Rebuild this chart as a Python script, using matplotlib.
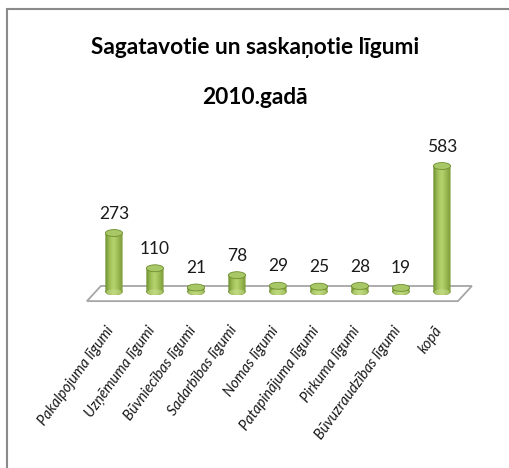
import numpy as np
import matplotlib
matplotlib.use("Agg")
import matplotlib.pyplot as plt
from matplotlib.patches import Ellipse, Polygon, PathPatch, Rectangle
from matplotlib.path import Path
from matplotlib.colors import LinearSegmentedColormap

# data
categories = ["Pakalpojuma līgumi", "Uzņēmuma līgumi", "Būvniecības līgumi",
              "Sadarbības līgumi", "Nomas līgumi", "Patapinājuma līgumi",
              "Pirkuma līgumi", "Būvuzraudzības līgumi", "kopā"]
values = [273, 110, 21, 78, 29, 25, 28, 19, 583]

title_lines = ["Sagatavotie un saskaņotie līgumi", "2010.gadā"]

# cylinder look
bar_w = 0.42
cap_h = 32
cyl_cmap = LinearSegmentedColormap.from_list(
    "cyl", ["#6a8a2c", "#8fb04a", "#a9c862", "#b6d370", "#a3c25c", "#8eae48", "#7b9a3a"])


def draw_cylinder(ax, x, v):
    left, right = x - bar_w / 2, x + bar_w / 2
    body = Path.make_compound_path(
        Path([(left, 0), (right, 0), (right, v), (left, v), (left, 0)],
             [Path.MOVETO, Path.LINETO, Path.LINETO, Path.LINETO, Path.CLOSEPOLY]),
        Path.unit_circle().transformed(
            matplotlib.transforms.Affine2D().scale(bar_w / 2, cap_h / 2).translate(x, 0)))
    clip = PathPatch(body, facecolor="none", edgecolor="none", transform=ax.transData)
    ax.add_patch(clip)
    grad = np.linspace(0, 1, 64).reshape(1, -1)
    im = ax.imshow(grad, cmap=cyl_cmap, aspect="auto", interpolation="bicubic",
                   extent=[left, right, -cap_h / 2, v + cap_h / 2], zorder=3)
    im.set_clip_path(clip)
    # light reflection at the base
    ax.add_patch(Ellipse((x, 0), bar_w * 0.9, cap_h * 0.8, facecolor="#c9e08e",
                         edgecolor="none", alpha=0.5, zorder=3.5))
    ax.add_patch(Ellipse((x, v), bar_w, cap_h, facecolor="#a8c766",
                         edgecolor="#6f8f30", lw=0.6, zorder=4))


fig = plt.figure(figsize=(5.10, 4.68), dpi=100)
ax = fig.add_axes([0, 0, 1, 1])
ax.set_xlim(-2.78, 9.66)
ax.set_ylim(-814, 1351)
ax.axis("off")

n = len(values)
xs = np.arange(n)

# floor
floor = Polygon([(-0.66, -42), (n - 1 + 0.39, -42), (n - 1 + 0.73, 28), (-0.32, 28)],
                closed=True, facecolor="white", edgecolor="#a6a6a6", lw=1.3, zorder=1)
ax.add_patch(floor)

for x, v in zip(xs, values):
    draw_cylinder(ax, x, v)
    ax.annotate(str(v), (x, v), xytext=(0, 14), textcoords="offset points",
                ha="center", va="center", fontsize=12.5, family="Lato", color="#1a1a1a")

for x, lab in zip(xs, categories):
    ax.text(x - 0.06, -165, lab, rotation=54, rotation_mode="anchor",
            ha="right", va="center", fontsize=10.5, family="Lato", style="italic",
            color="#1a1a1a")

fig.text(0.5, 1 - 48 / 468, title_lines[0], ha="center", va="center", fontsize=16.3,
         family="Lato", weight="bold", color="black")
fig.text(0.5, 1 - 98 / 468, title_lines[1], ha="center", va="center", fontsize=16.3,
         family="Lato", weight="bold", color="black")

# surrounding frame and clipped text above it
fig.patches.append(Rectangle((7 / 510, -0.1), 1.2, 1 - 9 / 468 + 0.1,
                             transform=fig.transFigure, fill=False,
                             edgecolor="#8a8a8a", lw=1.5))
fig.text(45 / 510, 1.0 + 0.012, "p", ha="center", va="baseline", fontsize=14,
         family="Liberation Serif")

fig.savefig("out.png", dpi=100)
